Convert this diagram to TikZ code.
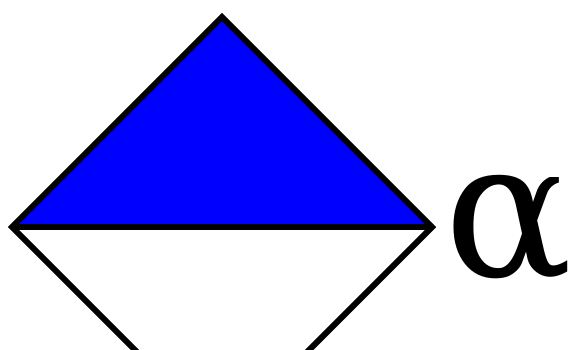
\documentclass[tikz,border=0pt]{standalone}
\usepackage{fontspec}
\newfontfamily\alphafont{DejaVu Serif}
\begin{document}
\begin{tikzpicture}[x=1pt,y=1pt,
  edge/.style={line width=6pt,line join=miter,line cap=butt}]
\useasboundingbox (0,0) rectangle (579,-349);
\coordinate (T) at (222,-17);
\coordinate (L) at (12,-227);
\coordinate (R) at (432,-227);
\coordinate (B) at (222,-437);
\fill[blue] (T) -- (R) -- (L) -- cycle;
\draw[edge] (T) -- (R) -- (B) -- (L) -- cycle;
\draw[edge] (L) -- (R);
\node[anchor=base west,inner sep=0pt,font=\alphafont\fontsize{190}{190}\selectfont] (a) at (444,-276) {α};
\end{tikzpicture}
\end{document}
